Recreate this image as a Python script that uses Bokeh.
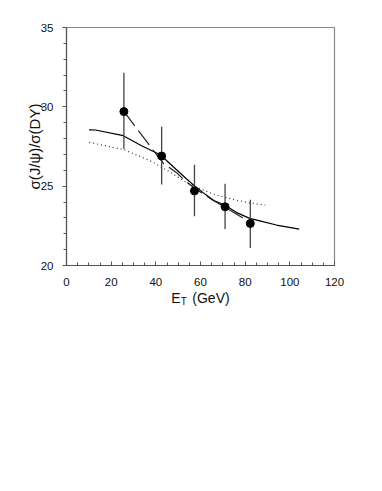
from bokeh.plotting import figure
from bokeh.models import Range1d, SingleIntervalTicker, FixedTicker, LinearAxis
from bokeh.embed import file_html
from bokeh.resources import INLINE

# Data points with error bars
et_pts = [25.7, 42.6, 57.3, 71.0, 82.3]
ratio_pts = [29.7, 26.9, 24.7, 23.7, 22.65]
err_lo = [27.35, 25.1, 23.1, 22.3, 21.1]
err_hi = [32.15, 28.75, 26.35, 25.15, 24.15]

# Solid model curve
solid_x = [10.1, 13.0, 25.4, 33.6, 42.0, 47.8, 53.8, 57.2, 62.0, 66.0, 71.0, 76.0, 82.0, 87.0, 94.0, 104.2]
solid_y = [28.55, 28.54, 28.18, 27.55, 26.98, 26.22, 25.45, 25.03, 24.5, 24.1, 23.8, 23.35, 22.97, 22.8, 22.55, 22.29]

# Dotted model curve
dot_x = [10.2, 25.7, 37.4, 45.0, 55.3, 65.7, 75.0, 82.0, 89.0]
dot_y = [27.76, 27.3, 26.6, 26.0, 25.1, 24.5, 24.15, 23.95, 23.8]

# Dashed model curve
dash_x = [25.7, 40.5, 43.3, 49.3, 53.0, 57.5, 65.7, 69.5, 77.7, 81.5]
dash_y = [29.71, 26.95, 26.45, 25.85, 25.35, 24.85, 24.1, 23.8, 23.1, 22.8]

FONT = "Liberation Sans"
NB = "\u00a0"

p = figure(frame_width=268, frame_height=238,
           min_border_left=66, min_border_top=27, min_border_right=14, min_border_bottom=60,
           x_range=Range1d(0, 120), y_range=Range1d(20, 35),
           output_backend="svg", toolbar_location=None,
           background_fill_color="white", border_fill_color="white")
p.grid.visible = False
p.outline_line_color = "#888888"
p.outline_line_width = 1.2

p.xaxis.ticker = SingleIntervalTicker(interval=20, num_minor_ticks=4)
p.yaxis.ticker = SingleIntervalTicker(interval=5, num_minor_ticks=5)

for ax in (p.xaxis[0], p.yaxis[0]):
    ax.axis_line_color = "#555555"
    ax.axis_line_width = 1.2
    ax.major_tick_line_color = "#555555"
    ax.minor_tick_line_color = "#555555"
    ax.major_label_text_font = FONT
    ax.major_label_text_font_size = "11.5px"
    ax.major_label_text_color = "#111111"
    ax.axis_label_text_font = FONT
    ax.axis_label_text_font_size = "14px"
    ax.axis_label_text_font_style = "normal"
    ax.axis_label_text_color = "#111111"

p.xaxis.major_tick_in = 4
p.xaxis.major_tick_out = 0
p.xaxis.minor_tick_in = 3
p.xaxis.minor_tick_out = 0
p.xaxis.major_label_standoff = 12
# "E_T (GeV)": main part here, the subscript T on a second, bare axis below
p.xaxis.axis_label = "E" + NB + NB + " (GeV)"
p.xaxis.axis_label_standoff = 1

p.yaxis.major_tick_in = 0
p.yaxis.major_tick_out = 4
p.yaxis.minor_tick_in = 0
p.yaxis.minor_tick_out = 3
p.yaxis.major_label_standoff = 9
p.yaxis.axis_label = "σ(J/ψ)/σ(DY)"
p.yaxis.axis_label_text_font_size = "15px"
p.yaxis.axis_label_standoff = -5

sub_axis = LinearAxis(ticker=FixedTicker(ticks=[]), axis_line_color=None,
                      major_tick_line_color=None, minor_tick_line_color=None,
                      major_label_text_font_size="0px",
                      axis_label="T" + NB * 12, axis_label_text_font=FONT,
                      axis_label_text_font_size="10px", axis_label_text_font_style="normal",
                      axis_label_text_color="#111111", axis_label_standoff=-13)
p.add_layout(sub_axis, "below")

# Curves
p.line(solid_x, solid_y, line_color="black", line_width=1.2)
p.line(dot_x, dot_y, line_color="#333333", line_width=1.2, line_dash="1 3")
p.line(dash_x, dash_y, line_color="#222222", line_width=1.2, line_dash="18 6")

# Error bars and points
p.segment(x0=et_pts, y0=err_lo, x1=et_pts, y1=err_hi, line_color="#444444", line_width=1.3)
p.scatter(et_pts, ratio_pts, size=8, color="black")

open("out.html", "w").write(file_html(p, INLINE))
